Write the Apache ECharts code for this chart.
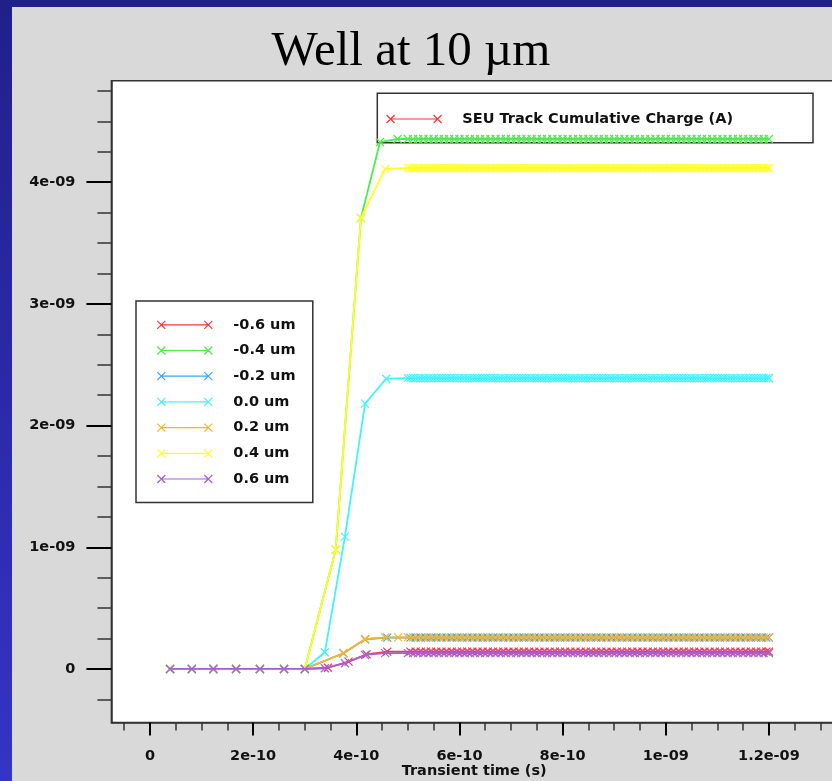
<!DOCTYPE html>
<html><head><meta charset="utf-8">
<script src="https://cdn.jsdelivr.net/npm/echarts@6/dist/echarts.min.js"></script>
<style>html,body{margin:0;padding:0;background:#d9d9d9;}#c{width:832px;height:781px;}</style>
</head><body><div id="c"></div>
<script>
// ---------- data ----------
const seriesNames = ['-0.6 um', '-0.4 um', '-0.2 um', '0.0 um', '0.2 um', '0.4 um', '0.6 um'];
const seriesColors = ['#ff3535', '#4cee4c', '#38a4ff', '#40f4ff', '#ffb31f', '#ffff22', '#a35fdc'];
const topLegendName = 'SEU Track Cumulative Charge (A)';

const xMajorTicks = [0, 2e-10, 4e-10, 6e-10, 8e-10, 1e-9, 1.2e-9];
const xMinorTicks = [-5e-11, 5e-11, 1e-10, 1.5e-10, 2.5e-10, 3e-10, 3.5e-10, 4.5e-10, 5e-10, 5.5e-10, 6.5e-10, 7e-10, 7.5e-10, 8.5e-10, 9e-10, 9.5e-10, 1.05e-9, 1.1e-9, 1.15e-9, 1.25e-9, 1.3e-9];
const yMajorTicks = [0, 1e-9, 2e-9, 3e-9, 4e-9];
const yMinorTicks = [-2.5e-10, 2.5e-10, 5e-10, 7.5e-10, 1.25e-9, 1.5e-9, 1.75e-9, 2.25e-9, 2.5e-9, 2.75e-9, 3.25e-9, 3.5e-9, 3.75e-9, 4.25e-9, 4.5e-9, 4.75e-9];

// early flat part (shared sample times, values 0)
const tEarly = [3.9e-11, 8.1e-11, 1.23e-10, 1.67e-10, 2.13e-10, 2.6e-10, 3.0e-10];
const vEarly = [0, 0, 0, 0, 0, 0, 0];

// plateau sample times
const tailA = [
  5.0e-10, 5.1e-10, 5.2e-10, 5.3e-10, 5.4e-10, 5.5e-10, 5.6e-10, 5.7e-10, 5.8e-10, 5.9e-10,
  6.0e-10, 6.1e-10, 6.2e-10, 6.3e-10, 6.4e-10, 6.5e-10, 6.6e-10, 6.7e-10, 6.8e-10, 6.9e-10,
  7.0e-10, 7.1e-10, 7.2e-10, 7.3e-10, 7.4e-10, 7.5e-10, 7.6e-10, 7.7e-10, 7.8e-10, 7.9e-10,
  8.0e-10, 8.1e-10, 8.2e-10, 8.3e-10, 8.4e-10, 8.5e-10, 8.6e-10, 8.7e-10, 8.8e-10, 8.9e-10,
  9.0e-10, 9.1e-10, 9.2e-10, 9.3e-10, 9.4e-10, 9.5e-10, 9.6e-10, 9.7e-10, 9.8e-10, 9.9e-10,
  1.00e-9, 1.01e-9, 1.02e-9, 1.03e-9, 1.04e-9, 1.05e-9, 1.06e-9, 1.07e-9, 1.08e-9, 1.09e-9,
  1.10e-9, 1.11e-9, 1.12e-9, 1.13e-9, 1.14e-9, 1.15e-9, 1.16e-9, 1.17e-9, 1.18e-9, 1.19e-9,
  1.20e-9];
const tailB = [
  5.05e-10, 5.15e-10, 5.25e-10, 5.35e-10, 5.45e-10, 5.55e-10, 5.65e-10, 5.75e-10, 5.85e-10, 5.95e-10,
  6.05e-10, 6.15e-10, 6.25e-10, 6.35e-10, 6.45e-10, 6.55e-10, 6.65e-10, 6.75e-10, 6.85e-10, 6.95e-10,
  7.05e-10, 7.15e-10, 7.25e-10, 7.35e-10, 7.45e-10, 7.55e-10, 7.65e-10, 7.75e-10, 7.85e-10, 7.95e-10,
  8.05e-10, 8.15e-10, 8.25e-10, 8.35e-10, 8.45e-10, 8.55e-10, 8.65e-10, 8.75e-10, 8.85e-10, 8.95e-10,
  9.05e-10, 9.15e-10, 9.25e-10, 9.35e-10, 9.45e-10, 9.55e-10, 9.65e-10, 9.75e-10, 9.85e-10, 9.95e-10,
  1.005e-9, 1.015e-9, 1.025e-9, 1.035e-9, 1.045e-9, 1.055e-9, 1.065e-9, 1.075e-9, 1.085e-9, 1.095e-9,
  1.105e-9, 1.115e-9, 1.125e-9, 1.135e-9, 1.145e-9, 1.155e-9, 1.165e-9, 1.175e-9, 1.185e-9, 1.195e-9,
  1.20e-9];

// rise part of each series (times, values)
const redRiseT = [3.45e-10, 3.85e-10, 4.2e-10, 4.6e-10];
const redRiseV = [1.0e-11, 6.0e-11, 1.2e-10, 1.42e-10];
const greenRiseT = [3.6e-10, 4.09e-10, 4.46e-10, 4.8e-10];
const greenRiseV = [9.8e-10, 3.706e-9, 4.33e-9, 4.355e-9];
const blueRiseT = [3.75e-10, 4.17e-10, 4.6e-10];
const blueRiseV = [1.29e-10, 2.44e-10, 2.58e-10];
const cyanRiseT = [3.39e-10, 3.78e-10, 4.17e-10, 4.58e-10];
const cyanRiseV = [1.37e-10, 1.088e-9, 2.18e-9, 2.385e-9];
const orangeRiseT = [3.75e-10, 4.17e-10, 4.56e-10, 4.81e-10];
const orangeRiseV = [1.29e-10, 2.44e-10, 2.6e-10, 2.6e-10];
const yellowRiseT = [3.6e-10, 4.09e-10, 4.56e-10];
const yellowRiseV = [9.8e-10, 3.706e-9, 4.11e-9];
const purpleRiseT = [3.39e-10, 3.78e-10, 4.17e-10, 4.56e-10];
const purpleRiseV = [6e-12, 4.7e-11, 1.15e-10, 1.3e-10];

// plateau values
const redTailV = [
  1.42e-10, 1.42e-10, 1.42e-10, 1.42e-10, 1.42e-10, 1.42e-10, 1.42e-10, 1.42e-10, 1.42e-10, 1.42e-10,
  1.42e-10, 1.42e-10, 1.42e-10, 1.42e-10, 1.42e-10, 1.42e-10, 1.42e-10, 1.42e-10, 1.42e-10, 1.42e-10,
  1.42e-10, 1.42e-10, 1.42e-10, 1.42e-10, 1.42e-10, 1.42e-10, 1.42e-10, 1.42e-10, 1.42e-10, 1.42e-10,
  1.42e-10, 1.42e-10, 1.42e-10, 1.42e-10, 1.42e-10, 1.42e-10, 1.42e-10, 1.42e-10, 1.42e-10, 1.42e-10,
  1.42e-10, 1.42e-10, 1.42e-10, 1.42e-10, 1.42e-10, 1.42e-10, 1.42e-10, 1.42e-10, 1.42e-10, 1.42e-10,
  1.42e-10, 1.42e-10, 1.42e-10, 1.42e-10, 1.42e-10, 1.42e-10, 1.42e-10, 1.42e-10, 1.42e-10, 1.42e-10,
  1.42e-10, 1.42e-10, 1.42e-10, 1.42e-10, 1.42e-10, 1.42e-10, 1.42e-10, 1.42e-10, 1.42e-10, 1.42e-10,
  1.42e-10];
const greenTailV = [
  4.355e-9, 4.355e-9, 4.355e-9, 4.355e-9, 4.355e-9, 4.355e-9, 4.355e-9, 4.355e-9, 4.355e-9, 4.355e-9,
  4.355e-9, 4.355e-9, 4.355e-9, 4.355e-9, 4.355e-9, 4.355e-9, 4.355e-9, 4.355e-9, 4.355e-9, 4.355e-9,
  4.355e-9, 4.355e-9, 4.355e-9, 4.355e-9, 4.355e-9, 4.355e-9, 4.355e-9, 4.355e-9, 4.355e-9, 4.355e-9,
  4.355e-9, 4.355e-9, 4.355e-9, 4.355e-9, 4.355e-9, 4.355e-9, 4.355e-9, 4.355e-9, 4.355e-9, 4.355e-9,
  4.355e-9, 4.355e-9, 4.355e-9, 4.355e-9, 4.355e-9, 4.355e-9, 4.355e-9, 4.355e-9, 4.355e-9, 4.355e-9,
  4.355e-9, 4.355e-9, 4.355e-9, 4.355e-9, 4.355e-9, 4.355e-9, 4.355e-9, 4.355e-9, 4.355e-9, 4.355e-9,
  4.355e-9, 4.355e-9, 4.355e-9, 4.355e-9, 4.355e-9, 4.355e-9, 4.355e-9, 4.355e-9, 4.355e-9, 4.355e-9,
  4.355e-9];
const blueTailV = [
  2.58e-10, 2.58e-10, 2.58e-10, 2.58e-10, 2.58e-10, 2.58e-10, 2.58e-10, 2.58e-10, 2.58e-10, 2.58e-10,
  2.58e-10, 2.58e-10, 2.58e-10, 2.58e-10, 2.58e-10, 2.58e-10, 2.58e-10, 2.58e-10, 2.58e-10, 2.58e-10,
  2.58e-10, 2.58e-10, 2.58e-10, 2.58e-10, 2.58e-10, 2.58e-10, 2.58e-10, 2.58e-10, 2.58e-10, 2.58e-10,
  2.58e-10, 2.58e-10, 2.58e-10, 2.58e-10, 2.58e-10, 2.58e-10, 2.58e-10, 2.58e-10, 2.58e-10, 2.58e-10,
  2.58e-10, 2.58e-10, 2.58e-10, 2.58e-10, 2.58e-10, 2.58e-10, 2.58e-10, 2.58e-10, 2.58e-10, 2.58e-10,
  2.58e-10, 2.58e-10, 2.58e-10, 2.58e-10, 2.58e-10, 2.58e-10, 2.58e-10, 2.58e-10, 2.58e-10, 2.58e-10,
  2.58e-10, 2.58e-10, 2.58e-10, 2.58e-10, 2.58e-10, 2.58e-10, 2.58e-10, 2.58e-10, 2.58e-10, 2.58e-10,
  2.58e-10];
const cyanTailV = [
  2.39e-9, 2.39e-9, 2.39e-9, 2.39e-9, 2.39e-9, 2.39e-9, 2.39e-9, 2.39e-9, 2.39e-9, 2.39e-9,
  2.39e-9, 2.39e-9, 2.39e-9, 2.39e-9, 2.39e-9, 2.39e-9, 2.39e-9, 2.39e-9, 2.39e-9, 2.39e-9,
  2.39e-9, 2.39e-9, 2.39e-9, 2.39e-9, 2.39e-9, 2.39e-9, 2.39e-9, 2.39e-9, 2.39e-9, 2.39e-9,
  2.39e-9, 2.39e-9, 2.39e-9, 2.39e-9, 2.39e-9, 2.39e-9, 2.39e-9, 2.39e-9, 2.39e-9, 2.39e-9,
  2.39e-9, 2.39e-9, 2.39e-9, 2.39e-9, 2.39e-9, 2.39e-9, 2.39e-9, 2.39e-9, 2.39e-9, 2.39e-9,
  2.39e-9, 2.39e-9, 2.39e-9, 2.39e-9, 2.39e-9, 2.39e-9, 2.39e-9, 2.39e-9, 2.39e-9, 2.39e-9,
  2.39e-9, 2.39e-9, 2.39e-9, 2.39e-9, 2.39e-9, 2.39e-9, 2.39e-9, 2.39e-9, 2.39e-9, 2.39e-9,
  2.39e-9];
const orangeTailV = [
  2.6e-10, 2.6e-10, 2.6e-10, 2.6e-10, 2.6e-10, 2.6e-10, 2.6e-10, 2.6e-10, 2.6e-10, 2.6e-10,
  2.6e-10, 2.6e-10, 2.6e-10, 2.6e-10, 2.6e-10, 2.6e-10, 2.6e-10, 2.6e-10, 2.6e-10, 2.6e-10,
  2.6e-10, 2.6e-10, 2.6e-10, 2.6e-10, 2.6e-10, 2.6e-10, 2.6e-10, 2.6e-10, 2.6e-10, 2.6e-10,
  2.6e-10, 2.6e-10, 2.6e-10, 2.6e-10, 2.6e-10, 2.6e-10, 2.6e-10, 2.6e-10, 2.6e-10, 2.6e-10,
  2.6e-10, 2.6e-10, 2.6e-10, 2.6e-10, 2.6e-10, 2.6e-10, 2.6e-10, 2.6e-10, 2.6e-10, 2.6e-10,
  2.6e-10, 2.6e-10, 2.6e-10, 2.6e-10, 2.6e-10, 2.6e-10, 2.6e-10, 2.6e-10, 2.6e-10, 2.6e-10,
  2.6e-10, 2.6e-10, 2.6e-10, 2.6e-10, 2.6e-10, 2.6e-10, 2.6e-10, 2.6e-10, 2.6e-10, 2.6e-10,
  2.6e-10];
const yellowTailV = [
  4.115e-9, 4.115e-9, 4.115e-9, 4.115e-9, 4.115e-9, 4.115e-9, 4.115e-9, 4.115e-9, 4.115e-9, 4.115e-9,
  4.115e-9, 4.115e-9, 4.115e-9, 4.115e-9, 4.115e-9, 4.115e-9, 4.115e-9, 4.115e-9, 4.115e-9, 4.115e-9,
  4.115e-9, 4.115e-9, 4.115e-9, 4.115e-9, 4.115e-9, 4.115e-9, 4.115e-9, 4.115e-9, 4.115e-9, 4.115e-9,
  4.115e-9, 4.115e-9, 4.115e-9, 4.115e-9, 4.115e-9, 4.115e-9, 4.115e-9, 4.115e-9, 4.115e-9, 4.115e-9,
  4.115e-9, 4.115e-9, 4.115e-9, 4.115e-9, 4.115e-9, 4.115e-9, 4.115e-9, 4.115e-9, 4.115e-9, 4.115e-9,
  4.115e-9, 4.115e-9, 4.115e-9, 4.115e-9, 4.115e-9, 4.115e-9, 4.115e-9, 4.115e-9, 4.115e-9, 4.115e-9,
  4.115e-9, 4.115e-9, 4.115e-9, 4.115e-9, 4.115e-9, 4.115e-9, 4.115e-9, 4.115e-9, 4.115e-9, 4.115e-9,
  4.115e-9];
const purpleTailV = [
  1.3e-10, 1.3e-10, 1.3e-10, 1.3e-10, 1.3e-10, 1.3e-10, 1.3e-10, 1.3e-10, 1.3e-10, 1.3e-10,
  1.3e-10, 1.3e-10, 1.3e-10, 1.3e-10, 1.3e-10, 1.3e-10, 1.3e-10, 1.3e-10, 1.3e-10, 1.3e-10,
  1.3e-10, 1.3e-10, 1.3e-10, 1.3e-10, 1.3e-10, 1.3e-10, 1.3e-10, 1.3e-10, 1.3e-10, 1.3e-10,
  1.3e-10, 1.3e-10, 1.3e-10, 1.3e-10, 1.3e-10, 1.3e-10, 1.3e-10, 1.3e-10, 1.3e-10, 1.3e-10,
  1.3e-10, 1.3e-10, 1.3e-10, 1.3e-10, 1.3e-10, 1.3e-10, 1.3e-10, 1.3e-10, 1.3e-10, 1.3e-10,
  1.3e-10, 1.3e-10, 1.3e-10, 1.3e-10, 1.3e-10, 1.3e-10, 1.3e-10, 1.3e-10, 1.3e-10, 1.3e-10,
  1.3e-10, 1.3e-10, 1.3e-10, 1.3e-10, 1.3e-10, 1.3e-10, 1.3e-10, 1.3e-10, 1.3e-10, 1.3e-10,
  1.3e-10];

// ---------- build ----------
function pairs(ts, vs) { return ts.map((t, i) => [t, vs[i]]); }
function table() {
  let out = [];
  for (let k = 0; k < arguments.length; k += 2) out = out.concat(pairs(arguments[k], arguments[k + 1]));
  return out.sort((a, b) => a[0] - b[0]);
}
const seriesData = [
  table(tEarly, vEarly, redRiseT, redRiseV, tailB, redTailV),
  table(tEarly, vEarly, greenRiseT, greenRiseV, tailA, greenTailV),
  table(tEarly, vEarly, blueRiseT, blueRiseV, tailB, blueTailV),
  table(tEarly, vEarly, cyanRiseT, cyanRiseV, tailA, cyanTailV, tailB, cyanTailV),
  table(tEarly, vEarly, orangeRiseT, orangeRiseV, tailA, orangeTailV),
  table(tEarly, vEarly, yellowRiseT, yellowRiseV, tailA, yellowTailV, tailB, yellowTailV),
  table(tEarly, vEarly, purpleRiseT, purpleRiseV, tailA, purpleTailV)
];

function fmtSci(v) {
  if (Math.abs(v) < 1e-20) return '0';
  return v.toExponential().replace(/e([+-])(\d+)$/, function (m, sg, d) { return 'e' + sg + (d.length < 2 ? '0' + d : d); });
}

const X_SYMBOL = 'path://M0,0L10,10M10,0L0,10';
const LEG_ICON = 'path://M0,0L8,8M8,0L0,8M4,4L51,4M47,0L55,8M55,0L47,8';
const FONT = 'DejaVu Sans';
const FS = 14.5;
const xMin = -7.48e-11, xMax = 1.332e-9, yMin = -4.4e-10, yMax = 4.834e-9;

const series = seriesNames.map((n, i) => ({
  name: n, type: 'line', xAxisIndex: 0, yAxisIndex: 0,
  data: seriesData[i],
  symbol: X_SYMBOL, symbolSize: 8, showAllSymbol: true,
  itemStyle: { color: seriesColors[i], borderColor: seriesColors[i], borderWidth: 1.2 },
  lineStyle: { color: seriesColors[i], width: 1.8 },
  emphasis: { disabled: true }, animation: false, z: 3 + i
}));
series.push({
  name: topLegendName, type: 'line', data: [],
  symbol: X_SYMBOL,
  itemStyle: { color: '#ff3535', borderColor: '#ff3535', borderWidth: 1.2 },
  lineStyle: { color: '#ff3535', width: 1.8 }, animation: false
});

const chart = echarts.init(document.getElementById('c'), null, { renderer: 'canvas' });
const legendText = { fontFamily: FONT, fontWeight: 'bold', fontSize: FS, color: '#111', lineHeight: 16 };
chart.setOption({
  animation: false,
  backgroundColor: new echarts.graphic.LinearGradient(0, 0, 0, 1, [
    { offset: 0, color: '#20208a' }, { offset: 1, color: '#3434c6' }]),
  graphic: [{ type: 'rect', z: -100, shape: { x: 12, y: 7, width: 830, height: 780 }, style: { fill: '#d9d9d9' } }],
  title: {
    text: 'Well at 10 µm', left: 406, top: 23, textAlign: 'center',
    textStyle: { fontFamily: 'Liberation Serif', fontSize: 49, fontWeight: 'normal', color: '#000' }
  },
  grid: {
    left: 111.4, top: 80.7, width: 725.6, height: 641.8, outerBoundsMode: 'none', containLabel: false,
    show: true, backgroundColor: '#fff', borderColor: '#333', borderWidth: 1.5
  },
  legend: [{
    orient: 'vertical', left: 136, top: 301,
    data: seriesNames, icon: LEG_ICON, itemWidth: 55, itemHeight: 8, itemGap: 9.7,
    padding: [15.8, 17.3, 15.5, 20.7], borderColor: '#333', borderWidth: 1.5, backgroundColor: 'transparent',
    selectedMode: false, itemStyle: { borderWidth: 1.2 },
    textStyle: Object.assign({ padding: [0, 0, 0, 16] }, legendText)
  }, {
    orient: 'horizontal', left: 377.3, top: 93.3,
    data: [topLegendName], icon: LEG_ICON, itemWidth: 55, itemHeight: 8,
    padding: [17.7, 80, 15.7, 8.7], borderColor: '#333', borderWidth: 1.5, backgroundColor: 'transparent',
    selectedMode: false, itemStyle: { borderWidth: 1.2 },
    textStyle: Object.assign({ padding: [0, 0, 0, 15.7] }, legendText)
  }],
  xAxis: [{
    type: 'value', min: xMin, max: xMax, position: 'bottom',
    axisLine: { show: true, onZero: false, lineStyle: { color: '#333', width: 1.5 } },
    axisTick: { show: true, customValues: xMajorTicks, length: 13, lineStyle: { color: '#000', width: 2 } },
    axisLabel: { show: true, customValues: xMajorTicks, formatter: fmtSci, margin: 26,
      fontFamily: FONT, fontWeight: 'bold', fontSize: FS, color: '#111' },
    splitLine: { show: false },
    name: 'Transient time (s)', nameLocation: 'middle', nameGap: 41, nameMoveOverlap: false,
    nameTextStyle: { fontFamily: FONT, fontWeight: 'bold', fontSize: FS, color: '#111' }
  }, {
    type: 'value', min: xMin, max: xMax, position: 'bottom',
    axisLine: { show: false, onZero: false },
    axisTick: { show: true, customValues: xMinorTicks, length: 8, lineStyle: { color: '#333', width: 1.5 } },
    axisLabel: { show: false }, splitLine: { show: false }
  }],
  yAxis: [{
    type: 'value', min: yMin, max: yMax, position: 'left',
    axisLine: { show: true, onZero: false, lineStyle: { color: '#333', width: 1.5 } },
    axisTick: { show: true, customValues: yMajorTicks, length: 25, lineStyle: { color: '#000', width: 2 } },
    axisLabel: { show: true, customValues: yMajorTicks, formatter: fmtSci, margin: 36,
      fontFamily: FONT, fontWeight: 'bold', fontSize: FS, color: '#111' },
    splitLine: { show: false }
  }, {
    type: 'value', min: yMin, max: yMax, position: 'left',
    axisLine: { show: false, onZero: false },
    axisTick: { show: true, customValues: yMinorTicks, length: 14, lineStyle: { color: '#333', width: 1.5 } },
    axisLabel: { show: false }, splitLine: { show: false }
  }],
  series: series
});
</script></body></html>
